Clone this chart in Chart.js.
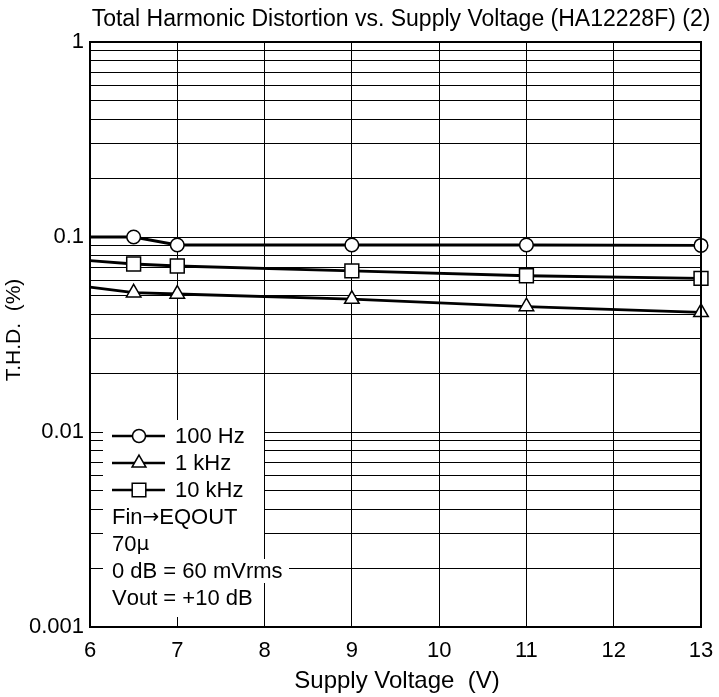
<!DOCTYPE html>
<html>
<head>
<meta charset="utf-8">
<script src="https://cdn.jsdelivr.net/npm/chart.js@4.4.1/dist/chart.umd.min.js"></script>
<style>
html,body{margin:0;padding:0;background:#fff;}
#wrap{width:719px;height:697px;position:relative;}
</style>
</head>
<body>
<div id="wrap"><canvas id="c" width="719" height="697"></canvas></div>
<script>
const voltage = [6, 6.5, 7, 9, 11, 13];
const thd100Hz = [0.1, 0.1, 0.091, 0.091, 0.091, 0.0905];
const thd1kHz = [0.0553, 0.0518, 0.051, 0.048, 0.044, 0.0411];
const thd10kHz = [0.0756, 0.0727, 0.071, 0.067, 0.0633, 0.0614];
const seriesNames = ['100 Hz', '1 kHz', '10 kHz'];
const xTicks = [6, 7, 8, 9, 10, 11, 12, 13];
const yLabels = ['0.001', '0.01', '0.1', '1'];
const noteLines = ['Fin\u2192EQOUT', '70\u03bc', '0 dB = 60 mVrms', 'Vout = +10 dB'];
const titleText = 'Total Harmonic Distortion vs. Supply Voltage (HA12228F) (2)';
const xTitle = 'Supply Voltage  (V)';
const yTitle = 'T.H.D.  (%)';

const FONT = '"Liberation Sans", Arial, Helvetica, sans-serif';
const SYMFONT = '"DejaVu Sans", sans-serif';

function pts(ys){ return voltage.map((v,i)=>({x:v,y:ys[i]})); }
function radii(r){ return voltage.map((v,i)=> i===0 ? 0 : r); }

const yTickValues = [];
[0.001, 0.01, 0.1].forEach(d => { for (let k=1;k<10;k++) yTickValues.push(+(d*k).toPrecision(3)); });
yTickValues.push(1);

function drawMarker(ctx, style, x, y) {
  ctx.save();
  ctx.fillStyle = '#fff';
  ctx.strokeStyle = '#000';
  ctx.lineWidth = 1.5;
  ctx.beginPath();
  if (style === 'circle') {
    ctx.arc(x, y, 6.5, 0, Math.PI*2);
  } else if (style === 'triangle') {
    const r = 8;
    ctx.moveTo(x, y - r);
    ctx.lineTo(x + r*Math.sin(Math.PI*2/3), y - r*Math.cos(Math.PI*2/3));
    ctx.lineTo(x - r*Math.sin(Math.PI*2/3), y - r*Math.cos(Math.PI*2/3));
    ctx.closePath();
  } else {
    ctx.rect(x - 6.8, y - 6.8, 13.6, 13.6);
  }
  ctx.fill();
  ctx.stroke();
  ctx.restore();
}

// draws text, rendering the arrow/mu glyphs with a symbol-capable font
function drawMixed(ctx, text, x, y) {
  let cx = x;
  for (const ch of text) {
    const sym = (ch === '\u2192' || ch === '\u03bc');
    ctx.font = (sym ? '20px ' + SYMFONT : '22px ' + FONT);
    ctx.fillText(ch, cx, y);
    cx += ctx.measureText(ch).width;
  }
}

const annotPlugin = {
  id: 'annot',
  afterDraw(chart) {
    const ctx = chart.ctx;
    ctx.save();
    ctx.fillStyle = '#000';
    ctx.textAlign = 'center';
    ctx.textBaseline = 'middle';
    ctx.font = '23px ' + FONT;
    ctx.fillText(titleText, 401, 20);
    ctx.font = '24px ' + FONT;
    ctx.fillText(xTitle, 397, 681);
    ctx.save();
    ctx.font = '21px ' + FONT;
    ctx.translate(14, 330);
    ctx.rotate(-Math.PI/2);
    ctx.fillText(yTitle, 0, 0);
    ctx.restore();

    // legend white area
    ctx.fillStyle = '#fff';
    ctx.fillRect(103, 420, 161, 197);
    ctx.fillRect(264, 559, 25, 24);

    const rowY = [436, 463, 490, 517, 544, 571, 598];
    const styles = ['circle', 'triangle', 'rect'];
    ctx.font = '22px ' + FONT;
    ctx.textAlign = 'left';
    ctx.textBaseline = 'middle';
    for (let i = 0; i < 3; i++) {
      const y = rowY[i];
      ctx.strokeStyle = '#000';
      ctx.lineWidth = 2.5;
      ctx.beginPath();
      ctx.moveTo(112, y);
      ctx.lineTo(165, y);
      ctx.stroke();
      drawMarker(ctx, styles[i], 139, y);
      ctx.fillStyle = '#000';
      ctx.font = '22px ' + FONT;
      ctx.fillText(seriesNames[i], 175, y + 1);
    }
    ctx.fillStyle = '#000';
    for (let j = 0; j < noteLines.length; j++) {
      drawMixed(ctx, noteLines[j], 112, rowY[3 + j] + 1);
    }
    ctx.restore();
  }
};

const common = {
  borderColor: '#000',
  borderWidth: 2.8,
  pointBackgroundColor: '#fff',
  pointBorderColor: '#000',
  pointBorderWidth: 1.5,
  tension: 0,
  fill: false,
  clip: false
};

new Chart(document.getElementById('c'), {
  type: 'line',
  data: {
    datasets: [
      Object.assign({}, common, { label: seriesNames[0], data: pts(thd100Hz), pointStyle: 'circle', pointRadius: radii(6.8) }),
      Object.assign({}, common, { label: seriesNames[1], data: pts(thd1kHz), pointStyle: 'triangle', pointRadius: radii(8.4) }),
      Object.assign({}, common, { label: seriesNames[2], data: pts(thd10kHz), pointStyle: 'rect', pointRadius: radii(9.8) })
    ]
  },
  options: {
    responsive: false,
    animation: false,
    devicePixelRatio: 1,
    layout: { padding: { left: 0, right: 0, top: 42, bottom: 0 } },
    plugins: { legend: { display: false }, title: { display: false }, tooltip: { enabled: false } },
    scales: {
      x: {
        type: 'linear',
        min: 6, max: 13,
        afterBuildTicks: s => { s.ticks = xTicks.map(v => ({ value: v })); },
        afterFit: s => { s.height = 70; s.paddingRight = 18; s.paddingLeft = 0; },
        grid: { color: '#000', lineWidth: 1, drawTicks: false },
        border: { color: '#000', width: 2 },
        ticks: { color: '#000', font: { family: FONT, size: 22 }, padding: 11, maxRotation: 0, autoSkip: false }
      },
      y: {
        type: 'logarithmic',
        min: 0.001, max: 1,
        afterBuildTicks: s => { s.ticks = yTickValues.map(v => ({ value: v })); },
        afterFit: s => { s.width = 90; s.paddingTop = 0; s.paddingBottom = 0; },
        grid: { color: '#000', lineWidth: 1, drawTicks: false },
        border: { color: '#000', width: 2 },
        ticks: {
          color: '#000', font: { family: FONT, size: 22 }, padding: 6, autoSkip: false,
          callback: (v) => {
            const idx = [0.001, 0.01, 0.1, 1].findIndex(p => Math.abs(p - v) < 1e-9);
            return idx >= 0 ? yLabels[idx] : '';
          }
        }
      }
    }
  },
  plugins: [annotPlugin, {
    id: 'frame',
    afterDatasetsDraw(chart) {
      const a = chart.chartArea, ctx = chart.ctx;
      ctx.save();
      ctx.strokeStyle = '#000';
      ctx.lineWidth = 2;
      ctx.strokeRect(a.left, a.top, a.right - a.left, a.bottom - a.top);
      ctx.restore();
    }
  }]
});
</script>
</body>
</html>
